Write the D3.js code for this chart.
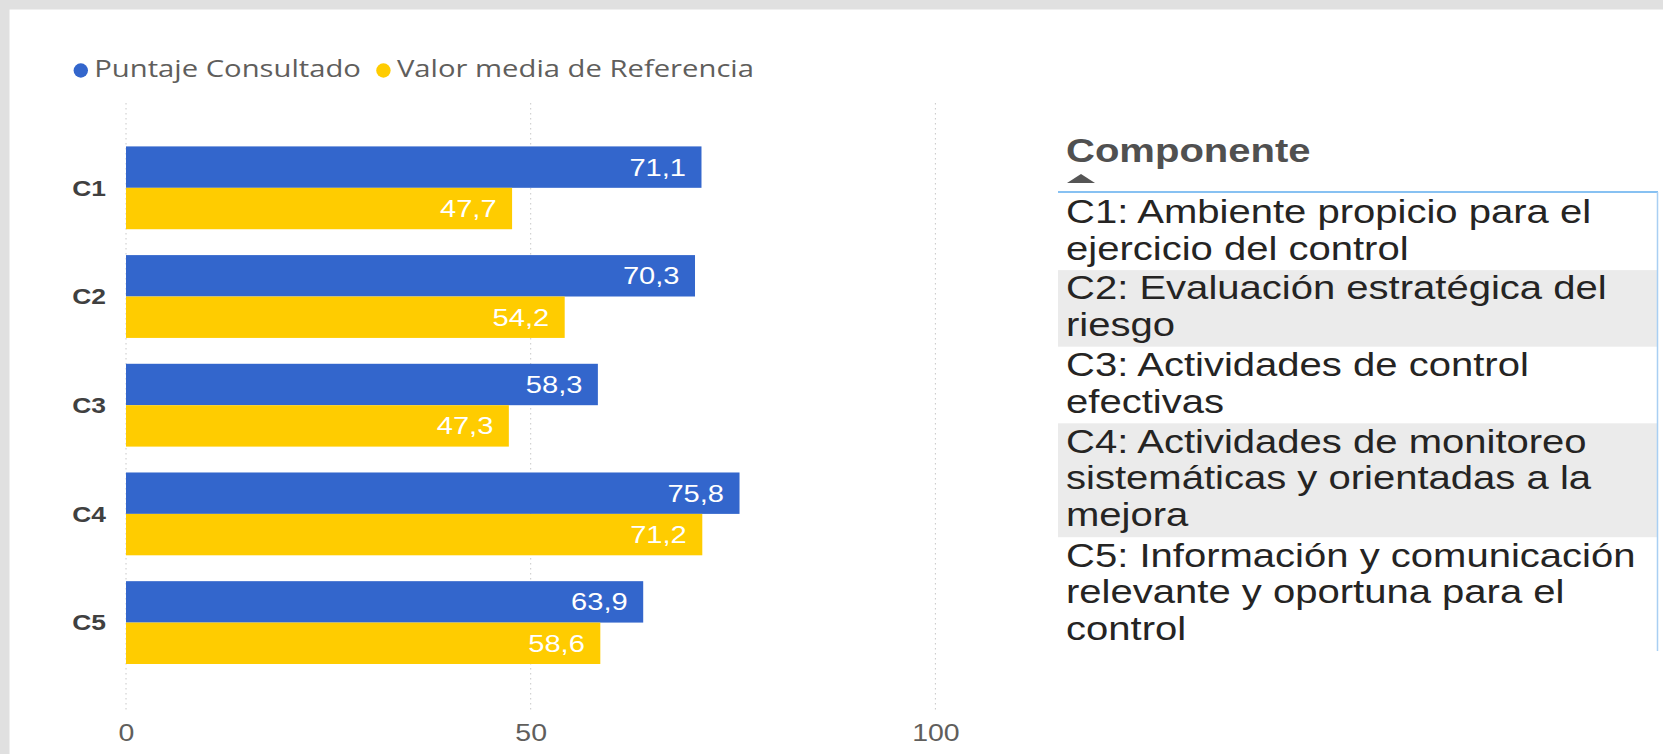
<!DOCTYPE html>
<html>
<head>
<meta charset="utf-8">
<script src="https://cdn.jsdelivr.net/npm/d3@7"></script>
<style>
  html, body { margin: 0; padding: 0; background: #ffffff; }
  svg { display: block; }
</style>
</head>
<body>
<svg id="chart" width="1663" height="754"></svg>
<script>
// ---------------- DATA ----------------
const categories = ["C1", "C2", "C3", "C4", "C5"];
const seriesNames = ["Puntaje Consultado", "Valor media de Referencia"];
const puntajeConsultado = [71.1, 70.3, 58.3, 75.8, 63.9];
const valorMediaReferencia = [47.7, 54.2, 47.3, 71.2, 58.6];
const xTicks = [0, 50, 100];
const tableTitle = "Componente";
const componentLines = [
  ["C1: Ambiente propicio para el", "ejercicio del control"],
  ["C2: Evaluación estratégica del", "riesgo"],
  ["C3: Actividades de control", "efectivas"],
  ["C4: Actividades de monitoreo", "sistemáticas y orientadas a la", "mejora"],
  ["C5: Información y comunicación", "relevante y oportuna para el", "control"]
];

// ---------------- STYLE ----------------
const seriesColors = ["#3366cc", "#ffcc00"];
const S = 1.228; // horizontal text stretch seen in the reference
const legendFont = "'Open Sans', 'Noto Sans', sans-serif";
const chartFont = "'Liberation Sans', Arial, sans-serif";
const tableFont = "'Liberation Sans', Arial, sans-serif";

const svg = d3.select("#chart");
const W = 1663, H = 754;

// background + frame
svg.append("rect").attr("x", 0).attr("y", 0).attr("width", W).attr("height", H).attr("fill", "#ffffff");
svg.append("rect").attr("x", 0).attr("y", 0).attr("width", W).attr("height", 9.5).attr("fill", "#e0e0e0");
svg.append("rect").attr("x", 0).attr("y", 0).attr("width", 9.5).attr("height", H).attr("fill", "#e0e0e0");

// ---------------- SCALES ----------------
const x = d3.scaleLinear().domain([0, 100]).range([126, 935.4]);
const y = d3.scaleBand().domain(categories)
  .range([113.8, 696.6]).paddingInner(0.238).paddingOuter(0.3);
const ys = d3.scaleBand().domain(seriesNames).range([0, y.bandwidth()]);
const color = d3.scaleOrdinal().domain(seriesNames).range(seriesColors);

const locale = d3.formatLocale({decimal: ",", thousands: ".", grouping: [3], currency: ["", "€"]});
const fmt = locale.format(".1f");

// ---------------- LEGEND ----------------
const legend = svg.append("g").attr("class", "legend");
let lx = 80.8;
seriesNames.forEach((name, i) => {
  legend.append("circle").attr("cx", lx).attr("cy", 70.5).attr("r", 7.2).attr("fill", color(name));
  const t = legend.append("text")
    .attr("transform", `translate(${lx + 13.5},76.7) scale(${S},1)`)
    .attr("font-family", legendFont).attr("font-size", 23.8).attr("fill", "#605e5c")
    .text(name);
  const w = t.node().getComputedTextLength() * S;
  lx = lx + 13.5 + w + 22.5;
});

// ---------------- GRID ----------------
svg.append("g").attr("class", "grid")
  .selectAll("line").data(xTicks).join("line")
  .attr("x1", d => x(d)).attr("x2", d => x(d))
  .attr("y1", 103).attr("y2", 712)
  .attr("stroke", "#c8c8c8").attr("stroke-width", 1).attr("stroke-dasharray", "1.5,3.5");

// ---------------- X AXIS ----------------
const xAxisG = svg.append("g").attr("transform", "translate(0,741)")
  .call(d3.axisBottom(x).tickValues(xTicks).tickFormat(d3.format("d")).tickSize(0));
xAxisG.select(".domain").remove();
xAxisG.selectAll("text")
  .attr("y", 0).attr("dy", 0)
  .attr("transform", `scale(${S},1)`)
  .attr("font-family", chartFont).attr("font-size", 23.2).attr("fill", "#605e5c");

// ---------------- Y AXIS ----------------
const yAxisG = svg.append("g").attr("transform", "translate(106,0)")
  .call(d3.axisLeft(y).tickSize(0).tickPadding(0));
yAxisG.select(".domain").remove();
yAxisG.selectAll("text")
  .attr("x", 0).attr("dy", "0.36em")
  .attr("transform", `scale(${S},1)`)
  .attr("font-family", chartFont).attr("font-size", 21.5).attr("font-weight", "bold").attr("fill", "#404040");

// ---------------- BARS ----------------
const rows = categories.map((c, i) => ({
  cat: c,
  vals: [
    {name: seriesNames[0], value: puntajeConsultado[i]},
    {name: seriesNames[1], value: valorMediaReferencia[i]}
  ]
}));

const groups = svg.append("g").attr("class", "bars")
  .selectAll("g").data(rows).join("g")
  .attr("transform", d => `translate(0,${y(d.cat)})`);

groups.selectAll("rect").data(d => d.vals).join("rect")
  .attr("x", x(0))
  .attr("y", d => ys(d.name))
  .attr("width", d => x(d.value) - x(0))
  .attr("height", ys.bandwidth())
  .attr("fill", d => color(d.name));

groups.selectAll("text").data(d => d.vals).join("text")
  .attr("transform", d => `translate(${x(d.value) - 15.5},${ys(d.name) + ys.bandwidth() / 2}) scale(${S},1)`)
  .attr("dy", "0.36em")
  .attr("text-anchor", "end")
  .attr("font-family", chartFont).attr("font-size", 23.7).attr("fill", "#ffffff")
  .text(d => fmt(d.value));

// ---------------- TABLE ----------------
const table = svg.append("g").attr("class", "table");
table.append("text")
  .attr("transform", `translate(1066,162.3) scale(${S},1)`)
  .attr("font-family", tableFont).attr("font-size", 32.6).attr("font-weight", "bold").attr("fill", "#505050")
  .text(tableTitle);
table.append("path")
  .attr("d", "M1067,183 L1081,174 L1095,183 Z")
  .attr("fill", "#555555");

const lineStep = 36.7;
let rowTop = 193.5;
componentLines.forEach((lines, i) => {
  const h = lines.length * 37.3 + 2;
  if (i % 2 === 1) {
    table.append("rect").attr("x", 1058).attr("y", rowTop).attr("width", 599.5).attr("height", h).attr("fill", "#ebebeb");
  }
  lines.forEach((ln, j) => {
    table.append("text")
      .attr("transform", `translate(1066,${rowTop + 29.3 + j * lineStep}) scale(${S},1)`)
      .attr("font-family", tableFont).attr("font-size", 32.6).attr("fill", "#252423")
      .text(ln);
  });
  rowTop += h;
});

table.append("line").attr("x1", 1058).attr("x2", 1658).attr("y1", 192).attr("y2", 192)
  .attr("stroke", "#87c1f2").attr("stroke-width", 2);
table.append("line").attr("x1", 1657.5).attr("x2", 1657.5).attr("y1", 192).attr("y2", 651)
  .attr("stroke", "#a9cff3").attr("stroke-width", 1.5);
</script>
</body>
</html>
